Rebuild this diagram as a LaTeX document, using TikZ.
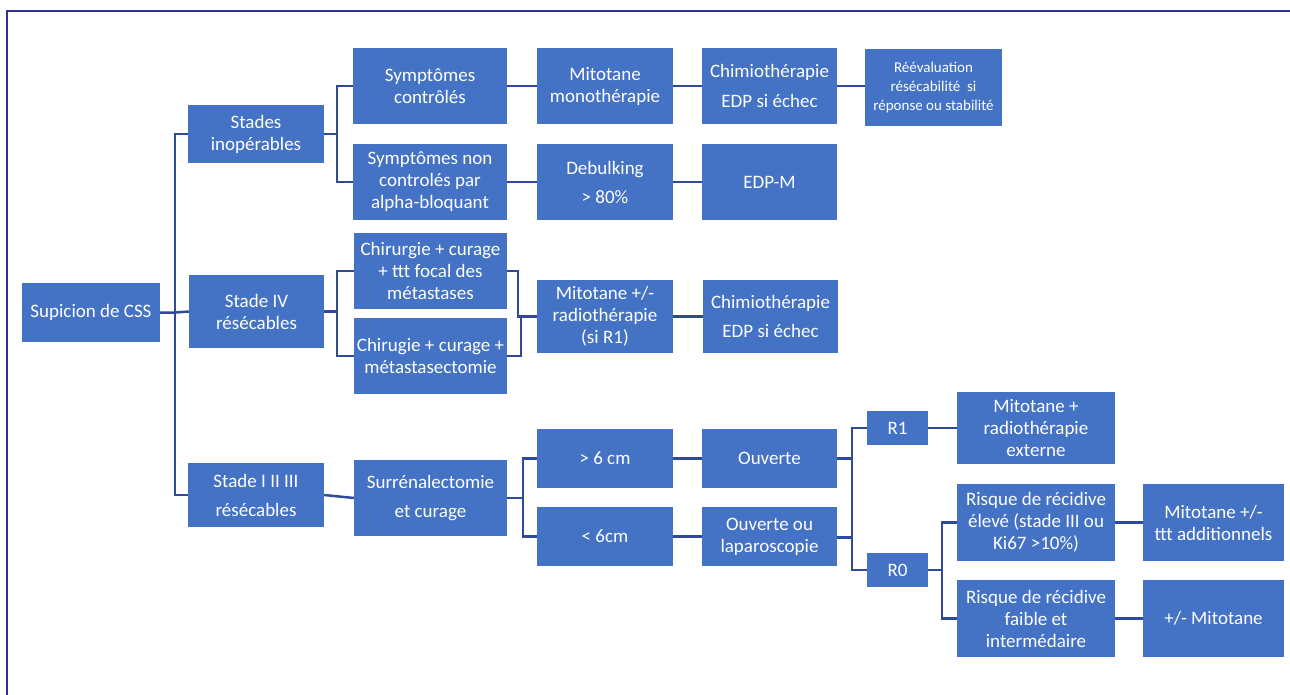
\documentclass[tikz,border=0pt]{standalone}
\usepackage{fontspec}
\setmainfont{Carlito}
\definecolor{boxblue}{HTML}{4472C4}
\definecolor{linkblue}{HTML}{2F4A9A}
\definecolor{framenavy}{HTML}{2E3192}
\begin{document}
\begin{tikzpicture}[x=1pt,y=-1pt,
  box/.style={draw=none,fill=boxblue,text=white,align=center,inner sep=0pt,
    font=\fontsize{19}{22}\selectfont},
  smallbox/.style={box,font=\fontsize{15}{19}\selectfont},
  link/.style={draw=linkblue,line width=2.5pt}]
\useasboundingbox (0,0) rectangle (1290,695);
\draw[framenavy,line width=2pt] (7,695) -- (7,11) -- (1290,11);

% level 0/1
\node[box,minimum width=138,minimum height=59] (css) at (91,312.5) {Supicion de CSS};
\node[box,minimum width=136,minimum height=58] (inop) at (256,134) {Stades\\inopérables};
\node[box,minimum width=135,minimum height=73] (s4) at (256.5,311.5) {Stade IV\\résécables};
\node[box,minimum width=136,minimum height=64] (s123) at (256,495) {Stade I II III\\[7pt]résécables};

% inoperable branch
\node[box,minimum width=154,minimum height=76] (sc) at (430,86) {Symptômes\\contrôlés};
\node[box,minimum width=154,minimum height=76] (snc) at (430,182) {Symptômes non\\controlés par\\alpha-bloquant};
\node[box,minimum width=136,minimum height=76] (mm) at (605,86) {Mitotane\\monothérapie};
\node[box,minimum width=136,minimum height=76] (deb) at (605,182) {Debulking\\[7pt]> 80\%};
\node[box,minimum width=135,minimum height=76] (chimioA) at (769.5,86) {Chimiothérapie\\[8pt]EDP si échec};
\node[box,minimum width=135,minimum height=76] (edpm) at (769.5,182) {EDP-M};
\node[smallbox,minimum width=137,minimum height=77] (reeval) at (933.5,87.5) {Réévaluation\\résécabilité\ \ si\\réponse ou stabilité};

% stage IV branch
\node[box,minimum width=153,minimum height=76] (chA) at (430.5,271) {Chirurgie + curage\\+ ttt focal des\\métastases};
\node[box,minimum width=153,minimum height=76] (chB) at (430.5,356) {Chirugie + curage +\\métastasectomie};
\node[box,minimum width=136,minimum height=73] (mitorad) at (605,316.5) {Mitotane +/-\\radiothérapie\\(si R1)};
\node[box,minimum width=135,minimum height=73] (chimioB) at (770.5,316.5) {Chimiothérapie\\[7pt]EDP si échec};

% stage I-III branch
\node[box,minimum width=153,minimum height=76] (surr) at (430.5,498) {Surrénalectomie\\[7pt]et curage};
\node[box,minimum width=136,minimum height=59] (gt6) at (605,458.5) {> 6 cm};
\node[box,minimum width=136,minimum height=59] (lt6) at (605,536.5) {< 6cm};
\node[box,minimum width=135,minimum height=59] (ouv) at (769.5,458.5) {Ouverte};
\node[box,minimum width=135,minimum height=59] (ouvlap) at (769.5,536.5) {Ouverte ou\\laparoscopie};
\node[box,minimum width=61,minimum height=34] (r1) at (897.5,428) {R1};
\node[box,minimum width=61,minimum height=34] (r0) at (897.5,570) {R0};
\node[box,minimum width=158,minimum height=72] (mrad) at (1036,428) {Mitotane +\\radiothérapie\\externe};
\node[box,minimum width=158,minimum height=77] (rel) at (1036,522.5) {Risque de récidive\\élevé (stade III ou\\Ki67 >10\%)};
\node[box,minimum width=158,minimum height=77] (rfa) at (1036,618.5) {Risque de récidive\\faible et\\intermédaire};
\node[box,minimum width=141,minimum height=77] (madd) at (1213.5,522.5) {Mitotane +/-\\ttt additionnels};
\node[box,minimum width=141,minimum height=77] (pmm) at (1213.5,618.5) {+/- Mitotane};

% trunk
\draw[link] (inop.west) -- ++(-13,0) coordinate (tr) -- (tr |- s123.west) -- (s123.west);
\draw[link] (css.east) -- (css.east -| tr) -- (s4.west);

% inoperable brackets
\draw[link] (sc.west) -- ++(-16,0) coordinate (b1) -- (b1 |- snc.west) -- (snc.west);
\draw[link] (inop.east) -- (inop.east -| b1);
\draw[link] (sc.east) -- (mm.west);
\draw[link] (mm.east) -- (chimioA.west);
\draw[link] (chimioA.east) -- (chimioA.east -| reeval.west);
\draw[link] (snc.east) -- (deb.west);
\draw[link] (deb.east) -- (edpm.west);

% stage IV brackets
\draw[link] (chA.west) -- ++(-17,0) coordinate (b2) -- (b2 |- chB.west) -- (chB.west);
\draw[link] (s4.east) -- (s4.east -| b2);
\draw[link] (chA.east) -- ++(11,0) |- (mitorad.west);
\draw[link] (chB.east) -- ++(14,0) |- (mitorad.west);
\draw[link] (mitorad.east) -- (chimioB.west);

% stage I-III brackets
\draw[link] (s123.east) -- (surr.west);
\draw[link] (gt6.west) -- ++(-14,0) coordinate (b4) -- (b4 |- lt6.west) -- (lt6.west);
\draw[link] (surr.east) -- (surr.east -| b4);
\draw[link] (gt6.east) -- (ouv.west);
\draw[link] (lt6.east) -- (ouvlap.west);
\draw[link] (r1.west) -- ++(-15,0) coordinate (b5) -- (b5 |- r0.west) -- (r0.west);
\draw[link] (ouv.east) -- (ouv.east -| b5);
\draw[link] ([yshift=-1pt]ouvlap.east) -- ([yshift=-1pt]ouvlap.east -| b5);
\draw[link] (r1.east) -- (mrad.west);
\draw[link] (rel.west) -- ++(-15,0) coordinate (b6) -- (b6 |- rfa.west) -- (rfa.west);
\draw[link] (r0.east) -- (r0.east -| b6);
\draw[link] (rel.east) -- (madd.west);
\draw[link] (rfa.east) -- (pmm.west);
\end{tikzpicture}
\end{document}
